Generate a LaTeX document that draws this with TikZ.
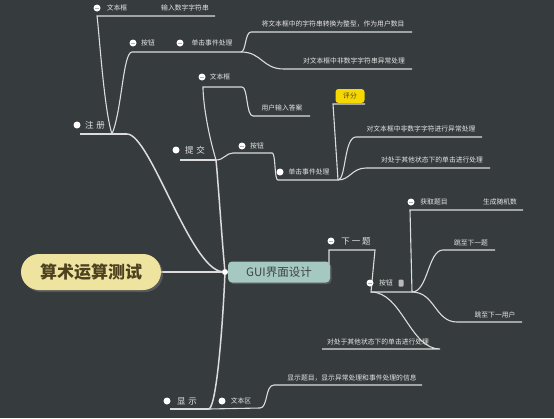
\documentclass[tikz,border=0pt]{standalone}
\usepackage{fontspec}
\setmainfont{Noto Sans CJK SC}
\usetikzlibrary{backgrounds,shadows}
\definecolor{bg}{HTML}{363B3D}
\definecolor{lin}{HTML}{DCDCDC}
\definecolor{txt}{HTML}{E6E6E6}
\definecolor{rootfill}{HTML}{EFE3A0}
\definecolor{roottxt}{HTML}{4D4220}
\definecolor{guifill}{HTML}{A5C8C0}
\definecolor{guitxt}{HTML}{3C4443}
\definecolor{pffill}{HTML}{F7D700}
\begin{document}
\begin{tikzpicture}[x=1pt,y=-1pt,
  lbl/.style={text=txt,font=\fontsize{6.8}{8}\selectfont,inner sep=0pt},
  big/.style={text=txt,font=\fontsize{8.5}{10}\selectfont,inner sep=0pt},
  ln/.style={draw=lin,line width=1.1pt},
  mainln/.style={draw=lin,line width=1.5pt},
  bul/.style={circle,fill=white,minimum size=7pt,inner sep=0pt},
  bulm/.style={bul,path picture={\draw[gray!60,line width=0.9pt]
     ([xshift=-2pt]path picture bounding box.center) -- ([xshift=2pt]path picture bounding box.center);}},
  ]
\useasboundingbox (0,0) rectangle (554,418);
% central nodes
\node[rounded corners=18pt,fill=rootfill,minimum width=140pt,minimum height=36pt,inner sep=0pt,
  text=roottxt,font=\fontsize{17}{20}\selectfont\bfseries,
  drop shadow={opacity=0.45,shadow xshift=2pt,shadow yshift=-2pt}] (root) at (91,272) {算术运算测试};
\node[rounded corners=4pt,fill=guifill,minimum width=102pt,minimum height=21pt,inner sep=0pt,
  text=guitxt,font=\fontsize{11.5}{13}\selectfont,
  drop shadow={opacity=0.45,shadow xshift=1.5pt,shadow yshift=-1.5pt}] (gui) at (279,272) {GUI界面设计};
\node[circle,fill=white,minimum size=6pt,inner sep=0pt] (J) at (225,272) {};
\node[rounded corners=3pt,fill=pffill,minimum width=29pt,minimum height=14pt,inner sep=0pt,
  text=roottxt,font=\fontsize{6.8}{8}\selectfont] (pf) at (350,96) {评分};

% bullets and labels
\node[bulm] (b1) at (97,8) {}; \node[lbl] (t1) at (117,8) {文本框};
\node[lbl] (t2) at (185,8) {输入数字字符串};
\node[bulm] (b2) at (133,43) {}; \node[lbl] (t3) at (148,43) {按钮};
\node[bulm] (b3) at (180,43) {}; \node[lbl] (t4) at (212,43) {单击事件处理};
\node[lbl] (t5) at (333,24) {将文本框中的字符串转换为整型，作为用户数目};
\node[lbl] (t6) at (354,61) {对文本框中非数字字符串异常处理};
\node[bul] (b4) at (77,125) {}; \node[big] (t7) at (95,125) {注\hspace{3pt}册};
\node[bul] (b5) at (176,150) {}; \node[big] (t8) at (195,150) {提\hspace{3pt}交};
\node[bulm] (b6) at (202,77) {}; \node[lbl] (t9) at (220,77) {文本框};
\node[lbl] (t10) at (282,108) {用户输入答案};
\node[bulm] (b7) at (242,146) {}; \node[lbl] (t11) at (257,146) {按钮};
\node[bul] (b8) at (280,172) {}; \node[lbl] (t12) at (309,172) {单击事件处理};
\node[lbl] (t13) at (421,129) {对文本框中非数字字符进行异常处理};
\node[lbl] (t14) at (432,160) {对处于其他状态下的单击进行处理};
\node[bulm] (b9) at (331,241) {}; \node[big] (t15) at (356,241) {下\hspace{2pt}一\hspace{2pt}题};
\node[bulm] (b10) at (370,283) {}; \node[lbl] (t16) at (386,283) {按钮};
\node[rounded corners=1pt,fill=gray!55,minimum width=5pt,minimum height=7pt,inner sep=0pt] (note) at (401,283) {};
\node[bulm] (b11) at (411,202) {}; \node[lbl] (t17) at (434,202) {获取题目};
\node[lbl] (t18) at (500,202) {生成随机数};
\node[lbl] (t19) at (471,243) {跳至下一题};
\node[lbl] (t20) at (495,315) {跳至下一用户};
\node[lbl] (t21) at (378,342) {对处于其他状态下的单击进行处理};
\node[bul] (b12) at (167,401) {}; \node[big] (t22) at (187,401) {显\hspace{3pt}示};
\node[bul] (b13) at (222,401) {}; \node[lbl] (t23) at (241,401) {文本区};
\node[lbl] (t24) at (352,378) {显示题目，显示异常处理和事件处理的信息};

% junction coordinates
\coordinate (zL) at (80,134); \coordinate (zJ) at (112,134); \coordinate (zR) at (127,134);
\coordinate (wbL) at (97,16); \coordinate (wbR) at (215,16);
\coordinate (anL) at (132,52); \coordinate (anJ) at (241,52);
\coordinate (c1L) at (251,32); \coordinate (c1R) at (412,32);
\coordinate (c2L) at (284,69); \coordinate (c2R) at (412,69);
\coordinate (tL) at (180,160); \coordinate (tJ) at (216,160);
\coordinate (tw1) at (203,87); \coordinate (tw2) at (242,87);
\coordinate (tw3) at (253,116); \coordinate (tw4) at (310,116);
\coordinate (ta1) at (233,153); \coordinate (ta2) at (272,153);
\coordinate (ta3) at (278,180); \coordinate (sJ) at (338,180);
\coordinate (pf1) at (333,104); \coordinate (pf2) at (365,104);
\coordinate (e1L) at (356,137); \coordinate (e1R) at (482,137);
\coordinate (e2L) at (366,168); \coordinate (e2R) at (490,168);
\coordinate (xa) at (329,264); \coordinate (xb) at (329,250); \coordinate (xc) at (375,250);
\coordinate (xd) at (371,292); \coordinate (xe) at (412,292);
\coordinate (g1) at (410,210); \coordinate (g2) at (523,210);
\coordinate (h1) at (443,250); \coordinate (h2) at (495,250);
\coordinate (u1) at (457,322); \coordinate (u2) at (522,322);
\coordinate (o1) at (440,349); \coordinate (o2) at (322,349);
\coordinate (sL) at (170,409); \coordinate (dJ) at (209,409); \coordinate (dR) at (260,408);
\coordinate (d1) at (274,385); \coordinate (d2) at (422,385);

\begin{pgfonlayer}{background}
\fill[bg] (0,0) rectangle (554,418);
\draw[mainln] (root.east) -- (J);
% 注册
\draw[mainln] (J) .. controls (190,268) and (150,134) .. (zR);
\draw[mainln] (zL) -- (zR);
\draw[ln] (zJ) .. controls (104,110) and (99,30) .. (wbL) -- (wbR);
\draw[ln] (zJ) .. controls (122,110) and (123,52) .. (anL) -- (anJ);
\draw[ln] (anJ) .. controls (246,52) and (245,32) .. (c1L) -- (c1R);
\draw[ln] (anJ) .. controls (262,52) and (262,69) .. (c2L) -- (c2R);
% 提交
\draw[mainln] (J) .. controls (222,240) and (218,180) .. (tJ);
\draw[mainln] (tL) -- (tJ);
\draw[ln] (tJ) .. controls (207,130) and (203,100) .. (tw1) -- (tw2)
  .. controls (248,87) and (246,116) .. (tw3) -- (tw4);
\draw[ln] (tJ) .. controls (224,160) and (226,153) .. (ta1) -- (ta2)
  .. controls (276,153) and (274,180) .. (ta3) -- (sJ);
\draw[ln] (sJ) -- (pf1) -- (pf2);
\draw[ln] (sJ) .. controls (346,180) and (344,137) .. (e1L) -- (e1R);
\draw[ln] (sJ) .. controls (350,180) and (352,168) .. (e2L) -- (e2R);
% 下一题
\draw[ln] (xa) -- (xb) -- (xc) -- (xd) -- (xe);
\draw[ln] (xe) -- (g1) -- (g2);
\draw[ln] (xe) .. controls (428,292) and (428,250) .. (h1) -- (h2);
\draw[ln] (xe) .. controls (435,292) and (435,322) .. (u1) -- (u2);
\draw[ln] (xd) .. controls (402,292) and (410,349) .. (o1) -- (o2);
% 显示
\draw[mainln] (J) .. controls (223,320) and (217,405) .. (dJ);
\draw[mainln] (sL) -- (dJ);
\draw[ln] (dJ) -- (dR) .. controls (268,408) and (265,385) .. (d1) -- (d2);
\end{pgfonlayer}
\end{tikzpicture}
\end{document}
